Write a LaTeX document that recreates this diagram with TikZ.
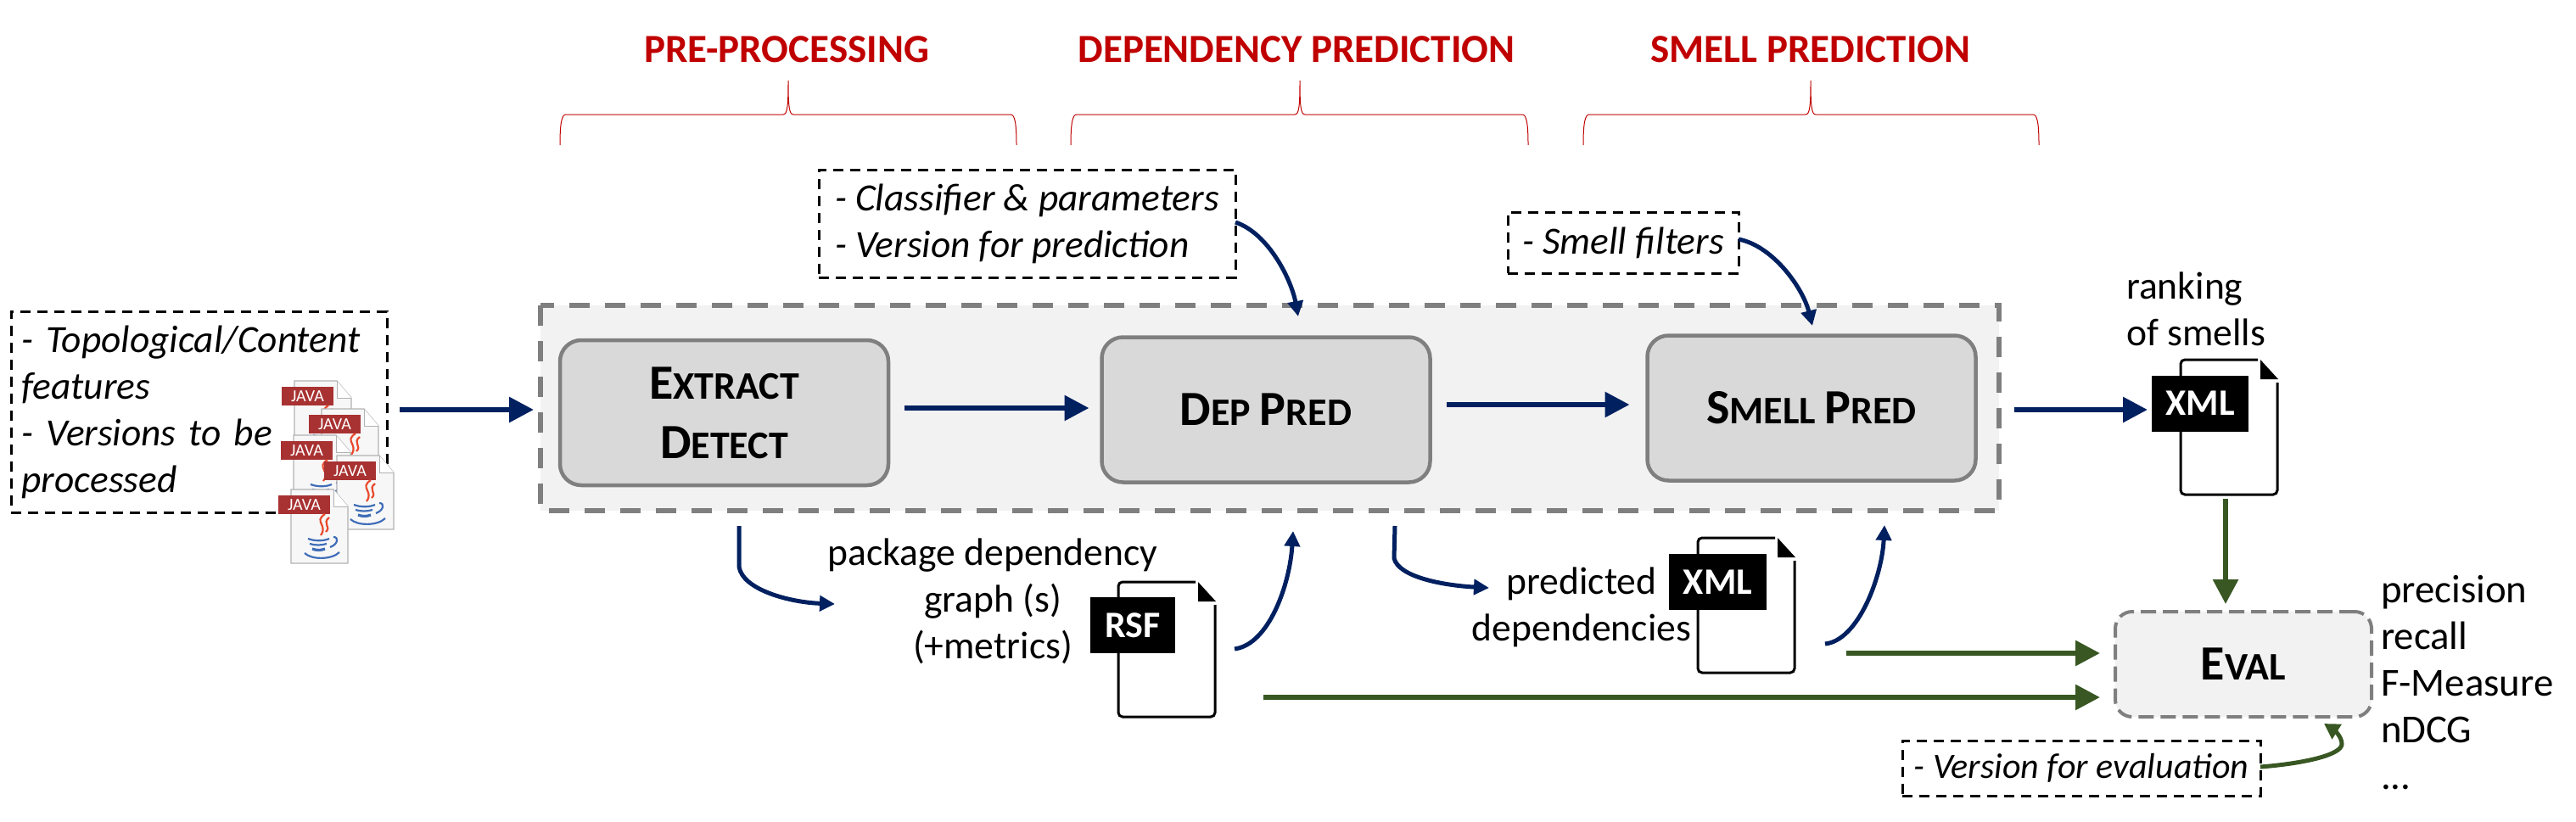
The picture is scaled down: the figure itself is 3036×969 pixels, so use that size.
\documentclass[tikz,border=0pt]{standalone}
\usepackage{fontspec}
\setmainfont{Carlito}
\usetikzlibrary{
	arrows.meta,
	positioning
}
\definecolor{flowblue}{HTML}{002060}
\definecolor{evalgreen}{HTML}{385723}
\definecolor{phasered}{HTML}{C00000}
\definecolor{edgegray}{HTML}{7F7F7F}
\definecolor{stagefill}{HTML}{D9D9D9}
\definecolor{panelfill}{HTML}{F2F2F2}
\definecolor{javared}{HTML}{A83232}
\definecolor{steamred}{HTML}{E8492C}
\definecolor{cupblue}{HTML}{3F6DB8}
\newcommand{\smallcap}[2]{{\fontsize{29}{35}\selectfont #1}{\fontsize{23}{35}\selectfont #2}}
\tikzset{
	>={Triangle[length=14.5pt, width=14.5pt]},
	flowedge/.style={->, draw=flowblue, line width=3pt},
	bendedge/.style={-{Triangle[length=9pt, width=9pt]}, draw=flowblue, line width=2.5pt},
	evaledge/.style={->, draw=evalgreen, line width=3pt},
	plainlabel/.style={font=\fontsize{22.8}{27.5}\selectfont, align=center, inner sep=0pt, outer sep=0pt},
	phaselabel/.style={font=\fontsize{23.5}{28}\selectfont\bfseries, text=phasered, inner sep=0pt},
	phasebrace/.style={draw=phasered, line width=0.5pt},
	noteblock/.style={draw=black, line width=1.5pt, dash pattern=on 6pt off 4pt, align=left, inner sep=0pt, outer sep=0pt,
		font=\fontsize{22.7}{27.5}\selectfont\itshape},
	stageblock/.style={draw=edgegray, fill=stagefill, line width=2.25pt, rounded corners=12.5pt, minimum width=193.5pt,
		minimum height=85.5pt, align=center, inner sep=0pt, outer sep=0pt, font=\fontsize{23}{35}\selectfont\bfseries},
	filetag/.style={fill=black, text=white, minimum width=50pt, minimum height=33pt, inner sep=0pt, outer sep=0pt,
		font=\fontsize{22}{26}\selectfont\bfseries},
	javatag/.style={fill=javared, text=white, minimum width=30.5pt, minimum height=11pt, inner sep=0pt, outer sep=0pt,
		font=\fontsize{10}{12}\selectfont},
	javaicon/.pic={
		\draw[draw=black!30, fill=black!3, line width=0.6pt] (0,0) -- (50,0) -- (67,20) -- (67,87) -- (0,87) -- cycle;
		\draw[draw=black!30, fill=white, line width=0.5pt] (50,0) -- (50,20) -- (67,20);
		\node[javatag] (-tag) at (15.5,18) {JAVA};
		\draw[draw=steamred, line width=1.1pt] (40,29) .. controls (26,38) and (44,42) .. (35,54)
			(45,33) .. controls (36,40) and (48,44) .. (41,50);
		\draw[draw=cupblue, line width=1.1pt] (20,58) .. controls (28,61) and (38,61) .. (45,58)
			(22,64) .. controls (28,66) and (36,66) .. (42,64) (50,56) .. controls (57,56) and (55,65) .. (46,68)
			(16,75) .. controls (24,83) and (48,83) .. (57,74);
		\draw[draw=cupblue, line width=1.6pt] (25,70) .. controls (30,72) and (35,72) .. (40,70);
	},
	docpage/.pic={
		\draw[line width=1.5pt, rounded corners=2.5pt] (91,0) -- (0,0) -- (0,159) -- (114,159) -- (114,27);
		\fill (94,0) -- (115,23) -- (94,23) -- cycle;
	}
}

\begin{document}
\begin{tikzpicture}[x=0.5pt, y=-0.5pt]
	\path[use as bounding box] (0,0) rectangle (3036,969);

	% phases on top
	\foreach \braceL/\braceM/\braceR in {660/929/1198, 1262/1532/1801, 1866/2134/2403} {
		\draw[phasebrace] (\braceL,171) .. controls (\braceL,145) and (\braceL+2,135) .. (\braceL+7,135)
			-- (\braceM-6,135) .. controls (\braceM-1,135) and (\braceM,125) .. (\braceM,95)
			.. controls (\braceM,125) and (\braceM+1,135) .. (\braceM+6,135)
			-- (\braceR-7,135) .. controls (\braceR-2,135) and (\braceR,145) .. (\braceR,171);
	}
	\node[phaselabel] (preproc) at (927,58) {PRE-PROCESSING};
	\node[phaselabel] (deppredphase) at (1528,58) {DEPENDENCY PREDICTION};
	\node[phaselabel] (smellphase) at (2134,58) {SMELL PREDICTION};

	% pipeline
	\draw[draw=edgegray, fill=panelfill, line width=3pt, dash pattern=on 12pt off 9pt] (637,360) rectangle (2356,602);
	\node[stageblock] (extract) at (853.5,486.5) {\smallcap{E}{XTRACT}\\\smallcap{D}{ETECT}};
	\node[stageblock] (deppred) at (1492,483) {\smallcap{D}{EP} \smallcap{P}{RED}};
	\node[stageblock] (smellpred) at (2135,481) {\smallcap{S}{MELL} \smallcap{P}{RED}};

	% notes
	\node[noteblock, minimum width=221.5pt, minimum height=118.5pt, text width=209pt] (inputnote) at (234.5,485.5)
		{- Topological/Content\\features\\- Versions to be\\processed};
	\node[noteblock, minimum width=245.5pt, minimum height=63.5pt] (paramnote) at (1210.5,263.5)
		{- Classifier \& parameters\\- Version for prediction};
	\node[noteblock, minimum width=136pt, minimum height=36pt] (filternote) at (1913,286)
		{- Smell filters};
	\node[noteblock, minimum width=211pt, minimum height=32.5pt, font=\fontsize{21}{27.5}\selectfont\itshape] (evalnote) at (2453,905.5)
		{- Version for evaluation};

	% java files
	\pic (javaa) at (347,449) {javaicon};
	\pic (javab) at (379,482) {javaicon};
	\pic (javac) at (346,513) {javaicon};
	\pic (javad) at (397,537) {javaicon};
	\pic (javae) at (343,577) {javaicon};

	% output files
	\pic (rsfpage) at (1318,686) {docpage};
	\node[filetag] (rsffile) at (1335,737) {RSF};
	\pic (xmlpage) at (2001,634) {docpage};
	\node[filetag, minimum width=57.5pt] (xmlfile) at (2024.5,686) {XML};
	\pic (rankpage) at (2570,424) {docpage};
	\node[filetag, minimum width=57pt] (rankfile) at (2593,475.5) {XML};

	% labels
	\node[plainlabel] (rsflabel) at (1170,709) {package dependency\\graph (s)\\(+metrics)};
	\node[plainlabel] (xmllabel) at (1864,716) {predicted\\dependencies};
	\node[plainlabel, align=left, anchor=west] (ranklabel) at (2506,364) {ranking\\of smells};
	\node[plainlabel, align=left, anchor=west, font=\fontsize{23.4}{27.5}\selectfont] (metriclabel) at (2806,805)
		{precision\\recall\\F-Measure\\nDCG\\...};

	% eval
	\node[draw=edgegray, fill=panelfill, line width=2pt, dash pattern=on 9pt off 4pt, rounded corners=10pt, minimum width=151pt,
		minimum height=62pt, inner sep=0pt, outer sep=0pt, font=\fontsize{23}{35}\selectfont\bfseries] (eval) at (2644,783) {\smallcap{E}{VAL}};

	% straight edges
	\coordinate (panelin) at (637,483);
	\draw[flowedge, shorten <=7.5pt, shorten >=4pt] (inputnote.east |- panelin) -- (panelin);
	\draw[flowedge, shorten <=9.5pt, shorten >=7.5pt] ([yshift=2.75pt]extract.east) -- ([yshift=1pt]deppred.west);
	\draw[flowedge, shorten <=9.5pt, shorten >=10.5pt] ([yshift=3pt]deppred.east) -- ([yshift=2pt]smellpred.west);
	\draw[flowedge, shorten <=22.5pt, shorten >=2.5pt] ([yshift=-1pt]smellpred.east) -- ([yshift=-1pt]smellpred.east -| rankfile.west);

	% bent edges
	\coordinate (paramout) at (1456,262);
	\coordinate (filterout) at (2049,282);
	\draw[bendedge] (paramout) .. controls (1495,275) and (1522,330) .. (1530,373);
	\draw[bendedge] (filterout) .. controls (2090,290) and (2125,340) .. (2136,384);
	\coordinate (extractout) at (871,620);
	\coordinate (rsfin) at (984,712);
	\draw[bendedge] (extractout) -- (871,668) .. controls (875,695) and (930,710) .. (rsfin);
	\coordinate (rsfout) at (1455,765);
	\coordinate (depin) at (1524,626);
	\draw[bendedge] (rsfout) .. controls (1495,760) and (1520,690) .. (depin);
	\coordinate (depout) at (1644,620);
	\coordinate (xmlin) at (1755,693);
	\draw[bendedge] (depout) -- (1643,658) .. controls (1648,680) and (1700,690) .. (xmlin);
	\coordinate (xmlout) at (2151,759);
	\coordinate (smellin) at (2221,619);
	\draw[bendedge] (xmlout) .. controls (2190,755) and (2218,680) .. (smellin);

	% eval edges
	\coordinate (rankout) at (2623,588);
	\draw[evaledge, shorten >=4.5pt] (rankout) -- (eval.north -| rankout);
	\coordinate (xmleval) at (2176,770);
	\draw[evaledge, shorten >=9pt] (xmleval) -- (eval.west |- xmleval);
	\coordinate (rsfeval) at (1489,822);
	\draw[evaledge, shorten >=9pt] (rsfeval) -- (eval.west |- rsfeval);
	\coordinate (evalout) at (2664,904);
	\coordinate (evalin) at (2739,853);
	\draw[evaledge, line width=2.5pt, -{Triangle[length=9pt, width=10pt]}] (evalout) .. controls (2715,900) and (2760,890) .. (2760,877)
		.. controls (2760,868) and (2750,860) .. (evalin);
\end{tikzpicture}
\end{document}
